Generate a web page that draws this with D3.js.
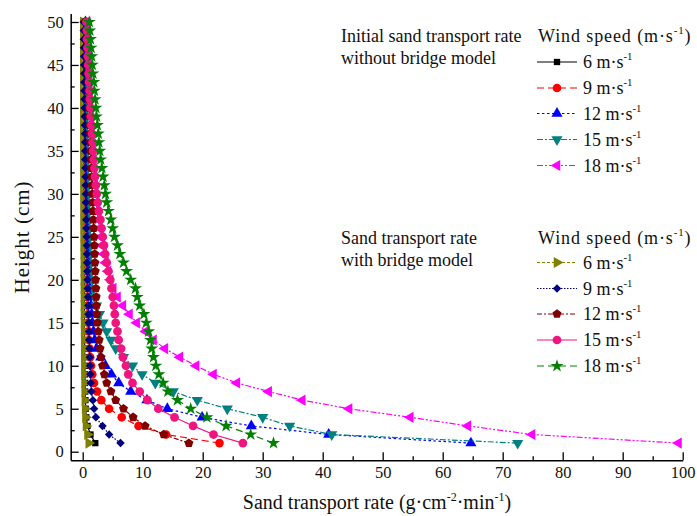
<!DOCTYPE html>
<html>
<head>
<meta charset="utf-8">
<script src="https://cdn.jsdelivr.net/npm/d3@7"></script>
<style>
  body { margin: 0; background: #fff; }
  svg { display: block; }
  svg text { font-family: "Liberation Serif", "DejaVu Serif", "Times New Roman", serif; }
</style>
</head>
<body>
<div id="chart"></div>
<script>
// heights (cm) shared by every series
const heights = [1,2,3,4,5,6,7,8,9,10,11,12,13,14,15,16,17,18,19,20,21,22,23,24,25,
  26,27,28,29,30,31,32,33,34,35,36,37,38,39,40,41,42,43,44,45,46,47,48,49,50];
const windSpeeds = [6, 9, 12, 15, 18];

// initial sand transport rate, without bridge model
const initial6 = [2.1,1.3,0.8,0.6,0.5,0.45,0.42,0.4,0.38,0.36,0.34,0.33,0.32,0.31,0.3,0.29,0.28,0.27,0.26,0.25,
  0.24,0.24,0.23,0.22,0.22,0.21,0.2,0.2,0.19,0.19,0.18,0.18,0.17,0.17,0.16,0.16,0.15,0.15,0.15,0.14,
  0.14,0.14,0.13,0.13,0.13,0.12,0.12,0.12,0.11,0.11];
const initial9 = [22.8,13.9,9.3,6.5,4.4,3.1,2.4,1.9,1.6,1.4,1.25,1.15,1.05,0.98,0.92,0.87,0.82,0.78,0.74,0.71,
  0.68,0.65,0.62,0.6,0.58,0.56,0.54,0.52,0.5,0.48,0.47,0.46,0.45,0.44,0.43,0.42,0.41,0.4,0.39,0.38,
  0.37,0.36,0.35,0.35,0.34,0.33,0.33,0.32,0.31,0.31];
const initial12 = [64.7,41.0,28.1,19.9,14.1,10.7,8.0,6.0,4.8,3.8,3.0,2.3,2.0,1.8,1.6,1.5,1.4,1.3,1.2,1.15,
  1.1,1.05,1.0,0.96,0.92,0.88,0.85,0.82,0.79,0.76,0.74,0.72,0.7,0.68,0.66,0.64,0.62,0.6,0.58,0.56,
  0.55,0.54,0.53,0.52,0.51,0.5,0.49,0.48,0.47,0.46];
const initial15 = [72.5,41.5,34.5,30.0,24.1,19.1,15.1,12.1,9.9,8.3,6.8,5.5,4.7,4.0,3.4,2.8,2.3,1.95,1.75,1.6,
  1.5,1.42,1.35,1.3,1.25,1.2,1.15,1.1,1.06,1.02,0.98,0.94,0.9,0.87,0.84,0.81,0.78,0.75,0.73,0.71,
  0.69,0.67,0.65,0.63,0.61,0.6,0.58,0.57,0.56,0.55];
const initial18 = [99.3,74.9,64.2,54.6,44.4,36.6,31.0,25.7,21.8,18.9,16.2,13.7,11.8,10.5,9.0,7.8,6.7,5.8,5.1,4.6,
  4.2,3.8,3.5,3.2,3.0,2.8,2.6,2.4,2.25,2.1,2.0,1.9,1.8,1.7,1.6,1.5,1.42,1.35,1.28,1.22,
  1.16,1.1,1.05,1.0,0.95,0.9,0.86,0.82,0.78,0.75];

// sand transport rate, with bridge model
const bridge6 = [1.0,0.8,0.55,0.45,0.4,0.36,0.33,0.31,0.29,0.27,0.26,0.25,0.24,0.23,0.22,0.21,0.2,0.2,0.19,0.19,
  0.18,0.18,0.17,0.17,0.16,0.16,0.15,0.15,0.15,0.14,0.14,0.14,0.13,0.13,0.13,0.12,0.12,0.12,0.12,0.11,
  0.11,0.11,0.11,0.1,0.1,0.1,0.1,0.1,0.1,0.1];
const bridge9 = [6.3,4.4,3.3,2.2,1.9,1.7,1.45,1.35,1.28,1.22,1.17,1.12,1.08,1.04,1.0,0.96,0.92,0.88,0.84,0.8,
  0.77,0.74,0.71,0.68,0.65,0.62,0.59,0.56,0.54,0.52,0.5,0.48,0.46,0.44,0.42,0.4,0.38,0.36,0.34,0.32,
  0.3,0.28,0.27,0.26,0.24,0.22,0.2,0.19,0.18,0.16];
const bridge12 = [17.7,13.5,10.4,8.4,6.8,5.5,4.7,4.0,3.6,3.3,3.05,2.9,2.75,2.6,2.45,2.35,2.3,2.25,2.2,2.15,
  2.1,2.05,2.0,1.95,1.9,1.84,1.78,1.72,1.66,1.6,1.55,1.5,1.45,1.4,1.35,1.3,1.25,1.2,1.15,1.1,
  1.05,1.0,0.95,0.9,0.85,0.8,0.75,0.7,0.65,0.6];
const bridge15 = [26.7,21.8,18.4,15.3,12.6,10.8,9.5,8.3,7.6,7.2,6.7,6.4,6.0,5.8,5.5,5.35,5.2,5.0,4.8,4.6,
  4.3,4.0,3.75,3.55,3.35,3.15,2.95,2.7,2.5,2.35,2.2,2.05,1.95,1.85,1.75,1.65,1.55,1.45,1.38,1.3,
  1.22,1.15,1.08,1.0,0.93,0.86,0.8,0.74,0.68,0.62];
const bridge18 = [31.8,28.0,23.9,20.7,18.0,15.8,14.2,13.4,12.7,12.2,11.8,11.5,11.3,11.0,10.6,10.2,9.5,9.1,8.8,8.0,
  7.3,6.8,6.2,5.8,5.3,5.0,4.7,4.3,4.0,3.8,3.6,3.4,3.2,3.0,2.85,2.7,2.6,2.45,2.3,2.2,
  2.05,1.95,1.85,1.7,1.6,1.5,1.4,1.3,1.2,1.1];

const xTicks = [0,10,20,30,40,50,60,70,80,90,100];
const xMinorTicks = [5,15,25,35,45,55,65,75,85,95];
const yTicks = [0,5,10,15,20,25,30,35,40,45,50];
const yMinorTicks = [2.5,7.5,12.5,17.5,22.5,27.5,32.5,37.5,42.5,47.5];

const FONT = '"Liberation Serif", "DejaVu Serif", "Times New Roman", serif';

// custom pentagon marker
const symbolPentagon = {
  draw(ctx, size) {
    const r = Math.sqrt(size) * 0.62;
    for (let i = 0; i < 5; i++) {
      const a = -Math.PI / 2 + i * 2 * Math.PI / 5;
      if (i === 0) ctx.moveTo(r * Math.cos(a), r * Math.sin(a));
      else ctx.lineTo(r * Math.cos(a), r * Math.sin(a));
    }
    ctx.closePath();
  }
};

// plotting styles, drawn in this order
const series = [
  { values: initial6,  color: '#000000', dash: null,            type: d3.symbolSquare,   size: 40, rot: 0 },
  { values: initial9,  color: '#ff0000', dash: '7,4',           type: d3.symbolCircle,   size: 58, rot: 0 },
  { values: initial12, color: '#0000ff', dash: '2.5,2.5',       type: d3.symbolTriangle, size: 54, rot: 0 },
  { values: initial15, color: '#008080', dash: '6,2,2,2',       type: d3.symbolTriangle, size: 54, rot: 180 },
  { values: initial18, color: '#ff00ff', dash: '6,2,2,2,2,2',   type: d3.symbolTriangle, size: 54, rot: -90 },
  { values: bridge6,   color: '#808000', dash: '3,2',           type: d3.symbolTriangle, size: 54, rot: 90 },
  { values: bridge9,   color: '#000080', dash: '1.5,1.5',       type: d3.symbolSquare,   size: 36, rot: 45 },
  { values: bridge12,  color: '#800000', dash: '5,2,2,2',       type: symbolPentagon,    size: 58, rot: 0 },
  { values: bridge15,  color: '#f0147f', dash: null,            type: d3.symbolCircle,   size: 60, rot: 0 },
  { values: bridge18,  color: '#008000', dash: '7,4',           type: d3.symbolStar,     size: 52, rot: 0 }
];

const width = 697, height = 516;
const svg = d3.select('#chart').append('svg')
  .attr('width', width)
  .attr('height', height)
  .attr('font-family', FONT);

const x = d3.scaleLinear().domain([-2, 100]).range([70.7, 682.7]);
const y = d3.scaleLinear().domain([-1, 51]).range([460.3, 13.4]);

// axes (ticks point inward)
svg.append('g')
  .attr('transform', `translate(0,${y(-1)})`)
  .call(d3.axisBottom(x).tickValues(xTicks).tickSizeInner(-8).tickSizeOuter(0).tickPadding(6));
svg.append('g')
  .attr('transform', `translate(0,${y(-1)})`)
  .call(d3.axisBottom(x).tickValues(xMinorTicks).tickSizeInner(-4).tickSizeOuter(0).tickFormat(''))
  .select('.domain').remove();

svg.append('g')
  .attr('transform', `translate(${x(-2)},0)`)
  .call(d3.axisLeft(y).tickValues(yTicks).tickSizeInner(-8).tickSizeOuter(0).tickPadding(7));
svg.append('g')
  .attr('transform', `translate(${x(-2)},0)`)
  .call(d3.axisLeft(y).tickValues(yMinorTicks).tickSizeInner(-4).tickSizeOuter(0).tickFormat(''))
  .select('.domain').remove();

svg.selectAll('g').attr('font-family', FONT);
svg.selectAll('.domain').attr('stroke', '#000').attr('stroke-width', 1.5);
svg.selectAll('.tick line').attr('stroke', '#000').attr('stroke-width', 1.3);
svg.selectAll('.tick text')
  .attr('font-family', FONT)
  .attr('font-size', 16.5)
  .attr('fill', '#111');

// helper for text with superscripts: parts = [[text, isSup], ...]
function supText(g, xPos, yPos, parts, fontSize) {
  const t = g.append('text')
    .attr('x', xPos)
    .attr('y', yPos)
    .attr('font-family', FONT)
    .attr('font-size', fontSize)
    .attr('fill', '#111');
  let raised = false;
  parts.forEach(([s, sup]) => {
    const ts = t.append('tspan').text(s);
    if (sup && !raised) { ts.attr('dy', -fontSize * 0.42).attr('font-size', fontSize * 0.6); raised = true; }
    else if (sup) { ts.attr('font-size', fontSize * 0.6); }
    else if (raised) { ts.attr('dy', fontSize * 0.42); raised = false; }
  });
  return t;
}

// axis titles
supText(svg, 377, 509, [['Sand transport rate (g·cm', false], ['-2', true], ['·min', false], ['-1', true], [')', false]], 20)
  .attr('text-anchor', 'middle');
svg.append('text')
  .attr('transform', 'translate(29,237) rotate(-90)')
  .attr('text-anchor', 'middle')
  .attr('font-family', FONT)
  .attr('font-size', 21)
  .attr('letter-spacing', 1)
  .attr('fill', '#111')
  .text('Height (cm)');

// data lines and markers
const line = d3.line()
  .x(d => x(d.v))
  .y(d => y(d.h));

series.forEach(s => {
  const pts = heights.map((h, i) => ({ h: h, v: s.values[i] }));
  const g = svg.append('g');
  g.append('path')
    .datum(pts)
    .attr('d', line)
    .attr('fill', 'none')
    .attr('stroke', s.color)
    .attr('stroke-width', 1.2)
    .attr('stroke-dasharray', s.dash);
  g.selectAll('path.m')
    .data(pts)
    .join('path')
    .attr('class', 'm')
    .attr('d', d3.symbol().type(s.type).size(s.size))
    .attr('transform', d => `translate(${x(d.v)},${y(d.h)}) rotate(${s.rot})`)
    .attr('fill', s.color);
});

// legends
function legendBlock(titleLines, titleY, rowYs, styles) {
  const g = svg.append('g');
  titleLines.forEach((t, i) => {
    g.append('text')
      .attr('x', 341)
      .attr('y', titleY + i * 22)
      .attr('font-family', FONT)
      .attr('font-size', 18)
      .attr('fill', '#111')
      .text(t);
  });
  supText(g, 538, titleY, [['Wind speed (m·s', false], ['-1', true], [')', false]], 18)
    .attr('letter-spacing', 0.9);
  styles.forEach((s, i) => {
    const yy = rowYs[i];
    g.append('line')
      .attr('x1', 537).attr('x2', 577)
      .attr('y1', yy).attr('y2', yy)
      .attr('stroke', s.color)
      .attr('stroke-width', 1.2)
      .attr('stroke-dasharray', s.dash);
    g.append('path')
      .attr('d', d3.symbol().type(s.type).size(s.size)())
      .attr('transform', `translate(557,${yy}) rotate(${s.rot})`)
      .attr('fill', s.color);
    supText(g, 583, yy + 6, [[windSpeeds[i] + ' m·s', false], ['-1', true]], 18);
  });
}

legendBlock(['Initial sand transport rate', 'without bridge model'], 42,
  [62, 88, 113.5, 139.5, 165.5], series.slice(0, 5));
legendBlock(['Sand transport rate', 'with bridge model'], 244,
  [262.5, 288.5, 314, 340, 366], series.slice(5, 10));
</script>
</body>
</html>
